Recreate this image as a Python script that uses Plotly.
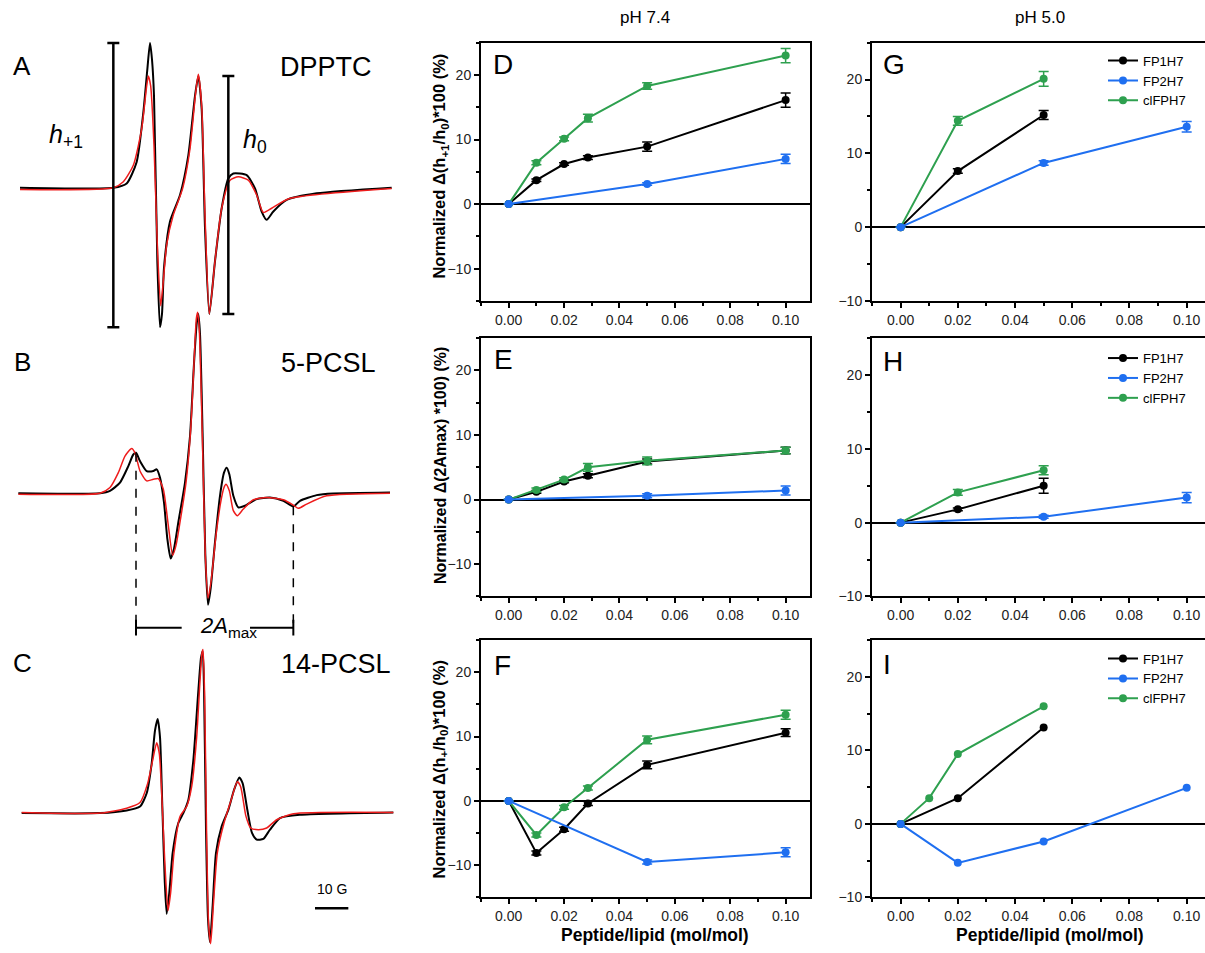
import plotly.graph_objects as go

W, H = 1205, 953
FONT = "Liberation Sans, Arial, sans-serif"
BLACK = "#000000"
BLUE = "#1f6ff0"
GREEN = "#2ea04f"
RED = "#ee1c1c"

# ---------------- data: panels D-I (peptide/lipid, mol/mol) ----------------
x74 = [0, 0.01, 0.02, 0.0286, 0.05, 0.10]
x74_fp2 = [0, 0.05, 0.10]
x50 = [0, 0.02, 0.05]
x50_fp2 = [0, 0.05, 0.10]
xI_cl = [0, 0.01, 0.02, 0.05]
xI_fp2 = [0, 0.02, 0.05, 0.10]

D_fp1 = [0, 3.7, 6.2, 7.2, 8.9, 16.1]
D_fp1_err = [0, 0.2, 0.2, 0.3, 0.7, 1.1]
D_cl = [0, 6.4, 10.1, 13.3, 18.3, 23.0]
D_cl_err = [0, 0.3, 0.3, 0.6, 0.5, 1.1]
D_fp2 = [0, 3.1, 7.0]
D_fp2_err = [0, 0.2, 0.7]

E_fp1 = [0, 1.2, 2.8, 3.7, 5.9, 7.6]
E_fp1_err = [0, 0.2, 0.2, 0.3, 0.4, 0.5]
E_cl = [0, 1.5, 3.1, 5.0, 6.0, 7.6]
E_cl_err = [0, 0.3, 0.3, 0.6, 0.6, 0.5]
E_fp2 = [0, 0.6, 1.4]
E_fp2_err = [0, 0.3, 0.7]

F_fp1 = [0, -8.1, -4.4, -0.4, 5.6, 10.6]
F_fp1_err = [0, 0.3, 0.3, 0.3, 0.6, 0.6]
F_cl = [0, -5.3, -1.0, 2.0, 9.5, 13.4]
F_cl_err = [0, 0.3, 0.3, 0.3, 0.6, 0.7]
F_fp2 = [0, -9.5, -8.0]
F_fp2_err = [0, 0.3, 0.7]

G_fp1 = [0, 7.6, 15.2]
G_fp1_err = [0, 0.3, 0.6]
G_cl = [0, 14.4, 20.1]
G_cl_err = [0, 0.6, 1.0]
G_fp2 = [0, 8.7, 13.6]
G_fp2_err = [0, 0.3, 0.7]

H_fp1 = [0, 1.8, 5.0]
H_fp1_err = [0, 0.2, 1.0]
H_cl = [0, 4.1, 7.1]
H_cl_err = [0, 0.4, 0.6]
H_fp2 = [0, 0.8, 3.4]
H_fp2_err = [0, 0.2, 0.7]

I_fp1 = [0, 3.5, 13.1]
I_cl = [0, 3.5, 9.5, 16.0]
I_fp2 = [0, -5.3, -2.4, 4.9]

series_names = ["FP1H7", "FP2H7", "clFPH7"]

# ---------------- data: EPR spectra (field in G, intensity in a.u.) ----------------
A_blk_f = [0, 28, 32, 35, 37, 38.2, 39, 39.6, 40.2, 41.2, 42, 42.6, 43.2, 45, 48, 50.5, 52.5, 53.5,
           54.5, 55.5, 56.8, 58.5, 60.5, 62.5, 64, 68, 70.5, 72.5, 74, 76, 80, 89, 111.5]
A_blk_i = [0, 0, 1.3, 7.8, 22.8, 35.8, 43.8, 38.8, 27.8, -22.2, -42.2, -38.2, -24.2, -10.2, -2.2, 9.8,
           27.8, 33.8, 23.8, -12.2, -38.2, -22.2, -6.2, 2.8, 4.3, 3.8, -0.2, -7.2, -9.7, -7.2, -3.7, -1.7, 0]
A_red_f = [0, 28, 31, 34, 36.5, 38, 38.5, 39.2, 40.2, 41.2, 42.2, 43, 44, 46, 48.8, 51, 52.7, 53.5,
           54.5, 55.5, 56.8, 58.5, 60.5, 63, 65.5, 68.5, 71, 73, 75.5, 81, 111.5]
A_red_i = [-0.5, 0, 1.8, 6.8, 17.8, 30.8, 33.8, 30.8, 12.8, -17.2, -35.7, -28.2, -17.2, -8.2, -0.2, 11.8,
           28.8, 34.3, 24.8, -8.2, -38.2, -22.2, -6.2, 2.3, 3.3, 2.3, -2.2, -7.5, -6.2, -3.2, -0.2]

B_blk_f = [-0.5, 24, 27, 30, 32.5, 34, 34.8, 36, 38, 40, 41, 42, 43.2, 44.2, 45.2, 46.2, 47.5, 49.5, 51,
           52.2, 53, 53.5, 54, 54.8, 55.6, 56.4, 57.2, 58.5, 60, 61.2, 62, 62.8, 64, 65.5, 67.5, 71, 75,
           79, 82, 84, 89, 94, 111]
B_blk_i = [0, 0, 0.7, 3.2, 8.2, 11.7, 12.2, 9.7, 6.7, 6.7, 7.2, 4.7, -2.8, -13.8, -19.8, -16.8, -8.8,
           3.2, 17.2, 39.2, 51.2, 54.2, 48.2, 17.2, -18.8, -33.8, -28.8, -14.8, -0.8, 6.2, 7.7, 5.7, -0.8,
           -4.3, -3.8, -1.8, -1.3, -2.3, -4.0, -2.3, -0.6, -0.1, 0.2]
B_red_f = [-0.5, 24, 27, 29.5, 31.5, 33.5, 34.5, 36, 38, 40, 41.5, 43, 44.5, 45.8, 46.8, 48, 49.8, 51.2,
           52.2, 52.9, 53.3, 53.8, 54.7, 55.6, 56.4, 57.3, 58.8, 60.2, 61.2, 61.8, 62.8, 64, 65.2, 67, 70,
           74, 79, 82, 83.5, 86, 92, 111]
B_red_i = [-0.3, 0, 1.7, 6.2, 11.2, 13.5, 12.2, 6.7, 3.7, 4.2, 4.4, 1.2, -9.8, -18.8, -15.8, -8.8, 3.2,
           19.2, 39.2, 52.7, 54.7, 49.2, 17.2, -18.8, -31.8, -26.8, -12.8, -2.8, 1.7, 2.7, 0.7, -5.3, -6.8,
           -4.8, -2.0, -1.3, -2.0, -3.6, -4.6, -3.3, -0.8, 0]

C_blk_f = [0.5, 24, 32, 36, 38, 39.5, 40.5, 41.3, 42, 42.7, 43.4, 44, 44.8, 45.8, 47.5, 49, 50.5, 52,
           53.5, 54.3, 54.8, 55.2, 55.8, 56.4, 57, 57.8, 58.8, 60.5, 62.5, 64.2, 65.8, 66.8, 68.2, 69.6,
           71, 73, 75, 78, 84, 112]
C_blk_i = [0, 0, 0.8, 2, 6, 15, 25, 28.5, 23, 2, -20, -30.5, -24, -12, -3, 0, 4, 16, 37, 47, 49, 38, -5,
           -32, -39, -28, -12, -4, 1, 7, 10.8, 9, 1, -6, -8, -7.8, -5, -1.5, -0.5, 0.2]
C_red_f = [0.5, 24, 32, 36, 38.3, 39.8, 41, 41.8, 42.6, 43.4, 44.4, 45.2, 46.2, 48, 50, 51.5, 53, 54,
           54.6, 54.9, 55.4, 56, 56.6, 57.2, 58, 59.2, 61.2, 63.2, 65.2, 66.2, 67.8, 69.2, 71.5, 74, 77,
           82, 112]
C_red_i = [0.2, 0, 1.5, 3.2, 9, 16, 21.3, 18, 4, -14, -29.5, -24, -12, -1, 2, 8, 23, 40, 48.5, 49.5, 35,
           -8, -34, -39.5, -28, -12, -3, 3.5, 9.5, 8, -1, -4.5, -5, -4.5, -2, -0.2, 0.2]

# ---------------- helpers ----------------
def xdom(l, r):
    return [l / W, r / W]

def ydom(top, bot):
    return [1 - bot / H, 1 - top / H]

def ann(text, xpx, ypx, size, angle=0, bold=False, xanchor="center", color="black"):
    if bold:
        text = "<b>" + text + "</b>"
    return dict(text=text, x=xpx / W, y=1 - ypx / H, xref="paper", yref="paper",
                showarrow=False, textangle=angle, xanchor=xanchor, yanchor="middle",
                font=dict(size=size, family=FONT, color=color))

tickfont = dict(family=FONT, size=14, color="#222")

fig = go.Figure()
layout = dict(width=W, height=H, margin=dict(l=0, r=0, t=0, b=0),
              paper_bgcolor="white", plot_bgcolor="rgba(0,0,0,0)", showlegend=True)

COL1 = xdom(481, 810)
COL2 = xdom(872, 1205)
ROWS = [ydom(43, 303.5), ydom(341, 601.5), ydom(645.5, 905)]
XR1 = [-0.01, 0.1088]
XR2 = [-0.01, 0.1064]

panels = [
    (1, COL1, ROWS[0], [-15, 25], XR1, False,
     [(x74, D_fp1, D_fp1_err, 0), (x74, D_cl, D_cl_err, 2), (x74_fp2, D_fp2, D_fp2_err, 1)], None),
    (2, COL1, ROWS[1], [-15, 25], XR1, False,
     [(x74, E_fp1, E_fp1_err, 0), (x74, E_cl, E_cl_err, 2), (x74_fp2, E_fp2, E_fp2_err, 1)], None),
    (3, COL1, ROWS[2], [-15, 25], XR1, False,
     [(x74, F_fp1, F_fp1_err, 0), (x74, F_cl, F_cl_err, 2), (x74_fp2, F_fp2, F_fp2_err, 1)], None),
    (4, COL2, ROWS[0], [-10, 25], XR2, True,
     [(x50, G_fp1, G_fp1_err, 0), (x50, G_cl, G_cl_err, 2), (x50_fp2, G_fp2, G_fp2_err, 1)], "legend"),
    (5, COL2, ROWS[1], [-10, 25], XR2, True,
     [(x50, H_fp1, H_fp1_err, 0), (x50, H_cl, H_cl_err, 2), (x50_fp2, H_fp2, H_fp2_err, 1)], "legend2"),
    (6, COL2, ROWS[2], [-10, 25], XR2, True,
     [(x50, I_fp1, None, 0), (xI_cl, I_cl, None, 2), (xI_fp2, I_fp2, None, 1)], "legend3"),
]
colors = [BLACK, BLUE, GREEN]

for idx, xd, yd, yr, xr, right, traces, leg in panels:
    s = "" if idx == 1 else str(idx)
    layout["xaxis" + s] = dict(
        domain=xd, range=xr, anchor="y" + s, showline=True, linecolor="black", linewidth=2,
        mirror=True, ticks="outside", ticklen=5, tickwidth=1.5, tickcolor="black",
        tick0=0, dtick=0.02, tickformat=".2f", showgrid=False, zeroline=False, tickfont=tickfont,
        minor=dict(dtick=0.01, tick0=0, ticks="outside", ticklen=3, tickwidth=1.5, tickcolor="black"))
    layout["yaxis" + s] = dict(
        domain=yd, range=yr, anchor="x" + s, showline=True, linecolor="black", linewidth=2,
        mirror=not right, ticks="outside", ticklen=5, tickwidth=1.5, tickcolor="black",
        tick0=0, dtick=10, showgrid=False, zeroline=True, zerolinecolor="black", zerolinewidth=1.5,
        tickfont=tickfont,
        minor=dict(dtick=5, tick0=0, ticks="outside", ticklen=3, tickwidth=1.5, tickcolor="black"))
    for xs, ys, err, k in traces:
        tr = dict(x=xs, y=ys, mode="lines+markers", name=series_names[k],
                  line=dict(color=colors[k], width=2),
                  marker=dict(color=colors[k], size=8),
                  xaxis="x" + s, yaxis="y" + s,
                  showlegend=leg is not None, legendrank=k + 1)
        if leg is not None:
            tr["legend"] = leg
        if err is not None:
            tr["error_y"] = dict(type="data", array=err, visible=True, color=colors[k],
                                 thickness=1.5, width=5)
        fig.add_trace(go.Scatter(**tr))

legend_common = dict(bgcolor="rgba(0,0,0,0)", borderwidth=0, xanchor="left", yanchor="top",
                     font=dict(family=FONT, size=13, color="black"), tracegroupgap=0,
                     itemwidth=30, traceorder="normal")
layout["legend"] = dict(x=1103 / W, y=1 - 46 / H, **legend_common)
layout["legend2"] = dict(x=1103 / W, y=1 - 346 / H, **legend_common)
layout["legend3"] = dict(x=1103 / W, y=1 - 649 / H, **legend_common)

# ---------------- EPR spectra panels (A, B, C) ----------------
PXPU = 10 / 3.0  # pixels per unit (both axes)
LEFT_XR = [-6, 117]
LEFT_XD = xdom(0, 410)
left = [
    (7, 25, 345, 189.33, A_blk_f, A_blk_i, A_red_f, A_red_i),
    (8, 300, 645, 497.33, B_blk_f, B_blk_i, B_red_f, B_red_i),
    (9, 640, 953, 820.0, C_blk_f, C_blk_i, C_red_f, C_red_i),
]
for idx, top, bot, base, bf, bi, rf, ri in left:
    s = str(idx)
    layout["xaxis" + s] = dict(domain=LEFT_XD, range=LEFT_XR, anchor="y" + s, visible=False)
    layout["yaxis" + s] = dict(domain=ydom(top, bot),
                               range=[-(bot - base) / PXPU, (base - top) / PXPU],
                               anchor="x" + s, visible=False)
    fig.add_trace(go.Scatter(x=bf, y=bi, mode="lines", line=dict(color=BLACK, width=2, shape="spline",
                             smoothing=0.6), xaxis="x" + s, yaxis="y" + s, showlegend=False))
    fig.add_trace(go.Scatter(x=rf, y=ri, mode="lines", line=dict(color=RED, width=1.5, shape="spline",
                             smoothing=0.6), xaxis="x" + s, yaxis="y" + s, showlegend=False))

shapes = []
def seg(x0, y0, x1, y1, ax, width=2.5, dash="solid"):
    shapes.append(dict(type="line", x0=x0, y0=y0, x1=x1, y1=y1, xref="x" + ax, yref="y" + ax,
                       line=dict(color="black", width=width, dash=dash)))

# h+1 and h0 bars from black DPPTC spectrum
pts = list(zip(A_blk_f, A_blk_i))
h1_top = max(i for f, i in pts if f < 45)
h1_bot = min(i for f, i in pts if f < 50)
h0_top = max(i for f, i in pts if 50 <= f < 55)
h0_bot = min(i for f, i in pts if 55 <= f < 60)
for xb, t, b in [(28, h1_top, h1_bot), (62.5, h0_top, h0_bot)]:
    seg(xb, b, xb, t, "7")
    seg(xb - 1.8, t, xb + 1.8, t, "7")
    seg(xb - 1.8, b, xb + 1.8, b, "7")

# 2Amax markers from black 5-PCSL spectrum
ptsB = list(zip(B_blk_f, B_blk_i))
lf, li = max(((f, i) for f, i in ptsB if f < 40), key=lambda p: p[1])
hf, hi = min(((f, i) for f, i in ptsB if 75 < f < 90), key=lambda p: p[1])
ybar = -(633 - 497.33) / PXPU
seg(lf, li, lf, ybar, "8", width=1.5, dash="dash")
seg(hf, hi, hf, ybar, "8", width=1.5, dash="dash")
seg(lf, ybar, 48.5, ybar, "8", width=2)
seg(69, ybar, hf, ybar, "8", width=2)
seg(lf, ybar - 2.4, lf, ybar + 2.4, "8", width=2)
seg(hf, ybar - 2.4, hf, ybar + 2.4, "8", width=2)

# 10 G scale bar
yscale = -(916 - 820) / PXPU
seg(88.5, yscale, 98.5, yscale, "9", width=2.5)
layout["shapes"] = shapes

annotations = [
    ann("pH 7.4", 645, 18, 17), ann("pH 5.0", 1040, 18, 17),
    ann("Normalized Δ(h<sub>+1</sub>/h<sub>0</sub>)*100 (%)", 440, 168, 16.5, angle=-90, bold=True),
    ann("Normalized Δ(2Amax) *100) (%)", 440, 470, 16, angle=-90, bold=True),
    ann("Normalized Δ(h<sub>+</sub>/h<sub>0</sub>)*100 (%)", 440, 776, 16.5, angle=-90, bold=True),
    ann("Peptide/lipid (mol/mol)", 655, 943, 17.5, bold=True),
    ann("Peptide/lipid (mol/mol)", 1050, 943, 17.5, bold=True),
    ann("D", 503, 65, 28), ann("E", 503, 363, 28), ann("F", 502, 671, 28),
    ann("G", 894, 65, 28), ann("H", 893, 365, 28), ann("I", 887, 670, 28),
    ann("A", 22, 67, 26), ann("B", 22, 365, 26), ann("C", 22, 669, 26),
    ann("DPPTC", 326, 68, 27), ann("5-PCSL", 328, 366, 27), ann("14-PCSL", 336, 670, 27),
    ann("<i>h</i><sub>+1</sub>", 66, 137, 25), ann("<i>h</i><sub>0</sub>", 255, 142, 25),
    ann("<i>2A</i><sub>max</sub>", 228, 632, 22),
    ann("10 G", 332, 897, 14),
]
layout["annotations"] = annotations

fig.update_layout(**layout)
fig.write_html("out.html", config={"displayModeBar": False},
               post_script="document.body.style.margin='0px';document.body.style.overflow='hidden';")
